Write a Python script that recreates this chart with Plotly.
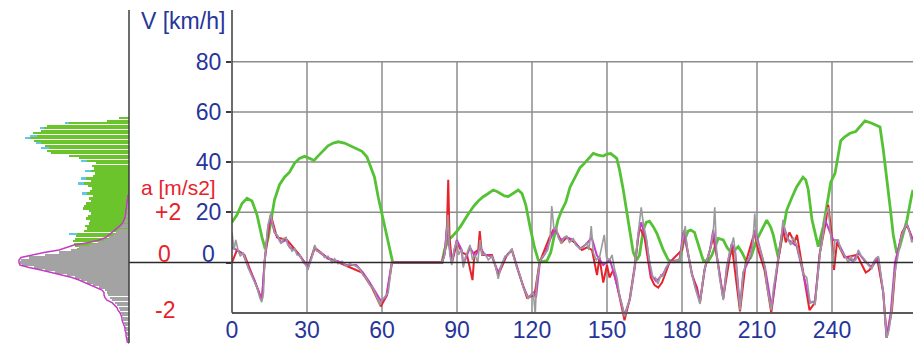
import plotly.graph_objects as go

# ---------------- data ----------------
# velocity [km/h] vs time [s]
vel_t = [0, 2, 4, 6, 8, 10, 12, 13.3, 14.5, 15.5, 17, 19, 21, 23, 25, 27, 29, 31, 32.8, 34, 36, 38.4,
         40.5, 42.5, 45, 48, 50, 52, 54, 55.5, 57, 58.5, 60, 61.5, 63, 64.3, 84, 85, 86.5, 88, 90,
         91.5, 94, 96.5, 98.5, 100.5, 102.5, 104.5, 106, 107.5, 109, 110.5, 112, 114.5, 116, 117.5,
         119.2, 121, 122.5, 124, 126, 127.5, 129, 130.4, 132, 133.5, 135.2, 137, 139.2, 140.5, 141.9,
         143.5, 144.5, 146.5, 148.5, 150, 151.5, 153.9, 155, 156.5, 157.7, 159.2, 160.5, 161.9, 163,
         164.5, 165.7, 167, 168.5, 170, 172.5, 174.5, 176.5, 179, 180.5, 182.4, 183.5, 185, 186.5,
         188.5, 190.5, 192, 194.5, 196.5, 198, 199.8, 202.5, 204, 205.8, 207.5, 209.9, 212, 213.9,
         215.5, 216.5, 218.5, 220, 221.9, 224, 225.9, 228.4, 229.5, 230.5, 232, 234.5, 236.5, 238,
         239.5, 241.2, 242.3, 243.5, 245, 247.2, 249.5, 251, 253.2, 255.9, 258, 259.2, 260.5, 262.2,
         263.5, 264.5, 265.9, 267, 268.5, 270, 271.9, 272.4]
vel_v = [16, 19, 23.5, 25.6, 24.5, 19, 10, 5.3, 10, 16, 25, 31, 34, 36, 39.5, 41.5, 42.3, 41.5, 40.6,
         42, 44.2, 46.5, 47.6, 48.1, 47.6, 46.3, 45.3, 44.3, 42, 38, 34, 26, 19.6, 13, 6, 0, 0, 5,
         9, 10.3, 12.5, 14.5, 18.5, 22.2, 24.5, 26.2, 27.5, 28.9, 28.3, 27.3, 26.5, 26.3, 27.3, 28.9,
         27.5, 23, 14.3, 6, 1, 0.3, 0.8, 4, 11, 17, 21, 24, 30, 33.5, 37.8, 39, 40.5, 42.5, 43.5,
         42.8, 42.4, 43.2, 43.4, 41.5, 37, 29, 21, 11.6, 4, 1, 3, 12.9, 16, 16.5, 14.3, 11.5, 5,
         1, 0.3, 0.5, 7.6, 12.5, 12.9, 12, 7, 0.8, 0.5, 3, 9.6, 9, 6, 3.7, 6.3, 4, 0.3, 2, 9, 13,
         16.9, 14, 11, 2, 10, 20.9, 26, 30.2, 34, 32.9, 29, 17, 6.3, 14.3, 23, 32, 35.5, 41, 48.5,
         50, 51.5, 52.2, 54, 56.4, 55.5, 54.5, 54, 45, 31.6, 20, 11, 3.7, 6, 11.6, 17, 27, 28.9]

# acceleration [m/s2], smoothed (magenta)
acc_mag_t = [0, 2.4, 4.4, 6.4, 9, 11, 12, 13.1, 14.4, 15.5, 17, 18.4, 19.7, 21.7, 23.1, 25.1, 27.1,
             30.4, 33.1, 35.7, 38.4, 42.4, 45.7, 49.7, 52.4, 55.1, 57.7, 59.7, 61.7, 63.9, 84, 85,
             85.9, 87.9, 89.9, 91.9, 92.5, 95.2, 97.2, 99.2, 101.2, 103.9, 106.5, 109.2, 111.9,
             113.9, 116.5, 118.5, 120.5, 121.6, 123.2, 125.2, 127.2, 129.2, 131.2, 133.9, 136.5,
             139.2, 141.9, 143.9, 145.9, 148.5, 151.2, 153.2, 155.2, 157, 159.2, 161.2, 162.5,
             163.7, 165.7, 167.7, 169.7, 172.5, 175.2, 179, 180.5, 181.9, 183.9, 185.2, 187.2,
             189.2, 191.2, 192.5, 193.9, 196.5, 197.9, 199.9, 201.2, 203.2, 204.5, 207.2, 209.2,
             211.2, 213.2, 215.9, 218.5, 220.5, 222.5, 225.9, 228.5, 231.2, 233.2, 235.2, 237.2,
             239.2, 240.5, 241.9, 245.2, 248.5, 250.5, 253.2, 255.9, 258.5, 260.5, 261.8, 263.5,
             265.2, 267.9, 269.9, 272.4]
acc_mag_a = [0.6, 0.45, 0.35, -0.15, -0.7, -1.25, -1.45, 0.1, 1.4, 1.8, 1.2, 1.0, 0.8, 0.9, 0.6,
             0.5, 0.25, -0.15, 0.55, 0.35, 0.15, 0.05, -0.1, -0.1, -0.4, -0.8, -1.25, -1.55, -1.35,
             0, 0, 0.3, 1.3, 0, 0.9, 0.5, -0.1, 0.6, 0.25, 0.6, 0.3, 0.25, -0.4, 0.2, 0.5, -0.15,
             -0.95, -1.4, -1.2, -1.4, 0.05, 0.35, 0.9, 1.35, 0.9, 1.0, 0.9, 0.55, 0.75, 1.0, 0.3,
             -0.1, 0.1, -0.6, -1.4, -2.1, -1.45, -0.15, 1.1, 1.6, 0.9, -0.5, -0.75, -0.45, 0.05,
             0.1, 1.2, 0.6, -0.4, -0.9, -1.55, -0.2, 0.5, 1.3, 0.3, -1.45, -0.2, 0.75, 0.5, -1.8,
             -0.4, 0.2, 1.3, 0.5, -0.2, -1.8, 0.2, 1.5, 0.9, 0.65, -0.4, -1.6, -1.55, 0.4, 1.7,
             1.2, 0.9, 0.9, 0.25, 0.05, 0.4, 0.05, -0.2, 0.2, -1.2, -3.0, -2.0, 0, 1.1, 1.55, 0.85]

# acceleration [m/s2], raw (grey)
acc_grey_t = [0, 0.8, 1.5, 2.4, 3.3, 4.4, 5.5, 6.4, 7.5, 9, 10, 11.1, 11.9, 12.6, 13.1, 14.4, 15.5,
              16.3, 17.1, 18.4, 19, 19.7, 20.5, 21.7, 22.3, 23.1, 24, 25.1, 26, 27.1, 28.5, 29.5,
              30.4, 31.2, 32, 33.1, 34, 35.7, 37, 38.4, 40, 41, 42.4, 44, 45.7, 47, 49.7, 51, 52.4,
              53.5, 55.1, 56.3, 57.7, 58.5, 59.2, 60, 61.7, 62.5, 63.9, 84, 84.8, 85.5, 86.4, 87.1,
              87.9, 88.8, 89.9, 90.6, 91.9, 92.5, 93.3, 95.2, 96.2, 97.2, 98.3, 99.2, 100, 101.2,
              102.5, 103.9, 105, 106.5, 107.5, 109.2, 110.5, 111.9, 113, 113.9, 115.2, 116.5, 117.5,
              118.5, 119.5, 120.5, 121.3, 121.8, 123.2, 124, 125.2, 126.3, 127.2, 127.9, 128.8,
              129.7, 130.5, 131.7, 132.8, 133.9, 135, 136.5, 137.5, 139.2, 140.5, 141.9, 142.8,
              143.7, 144.5, 145.7, 147, 148.9, 149.8, 151.1, 152, 153.1, 154, 155.1, 156, 157, 158,
              159.2, 160.3, 161.2, 162.5, 163.7, 164.6, 165.7, 166.7, 167.7, 168.4, 169.4, 170.4,
              171.5, 172.4, 173.5, 175.1, 177, 179.1, 180.5, 181.3, 181.9, 183.9, 185.2, 186.2,
              187.2, 188.2, 189.2, 190.5, 191.5, 192.5, 193.1, 193.9, 195, 196.5, 197.9, 198.8,
              199.9, 200.6, 201.2, 202.4, 203.2, 204.5, 205.7, 207.2, 208.2, 209.1, 209.8, 211.2,
              212.2, 213.2, 213.7, 215, 215.7, 216.6, 218.5, 219.5, 220.4, 221.3, 222.5, 223.5,
              224.5, 225.9, 226.8, 227.7, 228.5, 229.9, 231.2, 232.3, 233.2, 234.2, 235.2, 236.3,
              237.2, 238.5, 239.3, 240.5, 241.2, 242.5, 243.5, 245.2, 246.5, 247.5, 248.5, 249.5,
              250.5, 251.5, 253.2, 254.5, 255.9, 257, 258.5, 259.5, 260.5, 261.2, 261.9, 262.8,
              263.9, 265, 265.9, 267, 267.9, 269.9, 271, 271.9, 272.4]
acc_grey_a = [1.2, 0.5, 0.9, 0.5, 0.25, 0.4, 0.1, -0.2, -0.45, -0.8, -1.0, -1.4, -1.58, -1.2, 0.1,
              1.5, 1.95, 1.5, 1.2, 1.05, 0.85, 0.75, 0.95, 1.0, 0.7, 0.65, 0.45, 0.55, 0.3, 0.3, 0.0,
              -0.1, -0.3, 0.0, 0.2, 0.7, 0.45, 0.4, 0.2, 0.25, 0.0, 0.15, -0.05, 0.05, -0.15, -0.05,
              -0.15, -0.25, -0.5, -0.6, -0.9, -1.0, -1.35, -1.5, -1.7, -1.5, -1.3, -1.2, 0, 0, 0.2,
              0.7, 1.9, 0.3, -0.1, 0.5, 0.85, 0.3, 0.55, -0.2, 0.2, 0.7, 0.1, 0.3, 0.0, 0.9, 0.3,
              0.35, 0.1, 0.25, 0.05, -0.65, -0.2, 0.25, 0.3, 0.55, 0.1, -0.2, -0.5, -1.0, -1.2,
              -1.45, -1.3, -1.2, -2.05, -0.8, 0.05, 0.2, 0.35, 0.5, 0.9, 2.25, 1.3, 1.45, 1.0, 0.75,
              1.0, 1.05, 0.8, 0.95, 0.7, 0.55, 0.6, 0.8, 0.5, 1.45, 0.4, 0.1, 0.2, 1.1, 0.2, 0.1,
              0.3, -0.3, -0.6, -1.36, -1.7, -2.15, -1.8, -1.45, -0.7, -0.1, 1.2, 2.2, 1.5, 1.0, 0.2,
              -0.2, -0.6, -0.6, -0.85, -0.5, -0.55, -0.2, 0.0, 0.05, 0.1, 1.0, 1.45, 0.7, -0.45,
              -1.0, -1.3, -1.65, -0.8, -0.2, 0.3, 0.6, 1.2, 2.2, 0.3, -0.6, -1.5, -0.2, 0.3, 0.8,
              1.0, 0.5, -1.0, -1.9, -0.4, 0.0, 0.25, 0.6, 1.95, 0.9, 0.55, 0.2, -0.2, -0.8, -1.5,
              -1.9, -1.0, 0.15, 0.8, 1.7, 1.2, 0.9, 0.7, 1.0, 0.7, 0.3, 0.0, -0.45, -0.6, -1.6,
              -1.55, -1.7, -0.5, 0.35, 1.0, 1.8, 2.2, 1.3, -0.1, 0.9, 0.9, 0.5, 0.25, 0.0, 0.25,
              0.05, 0.1, 0.5, 0.3, 0.1, -0.1, -0.25, 0.1, 0.25, -0.5, -1.2, -2.2, -3.0, -2.7, -1.9,
              -0.5, 0.0, 0.7, 1.1, 1.55, 1.2, 0.8, 0.9]

# acceleration [m/s2], second raw channel (red)
acc_red_t = [0, 2, 5, 9, 12, 13.1, 15.5, 18, 22, 27, 30.4, 33, 38, 45, 52, 56, 59.5, 62, 64, 84, 85.3,
             86, 86.5, 87, 88, 90, 92, 94, 96.2, 97, 98.5, 99.1, 100, 104, 106.5, 110, 112, 114,
             118, 121, 123, 127, 129, 132, 134, 137, 140, 142, 144, 146, 147, 148.5, 150, 151,
             152.5, 154, 155.5, 157, 159, 161, 163, 165, 167.5, 169, 170.5, 172, 175, 180, 181,
             182, 184, 186, 187.2, 189, 192.5, 194, 196.5, 199.9, 203.2, 205.5, 209, 210.5, 213,
             215.7, 218.5, 220.5, 221.5, 223, 225, 226, 228.5, 231, 233.2, 235, 237.5, 238.5, 240,
             240.8, 242, 245, 250, 253.5, 255, 258, 260.5, 261.9, 264, 265.5, 268, 270, 272.4]
acc_red_a = [0.0, 0.5, 0.3, -0.7, -1.5, 0.1, 1.9, 1.0, 0.9, 0.3, -0.2, 0.6, 0.2, -0.1, -0.4, -1.0,
             -1.75, -1.3, 0, 0, 0.5, 1.5, 3.3, 1.0, 0, 0.8, 0.4, 0.3, -0.7, 0.4, 0.5, 1.25, 0.3,
             0.3, -0.5, 0.3, 0.5, -0.2, -1.4, -1.3, 0.0, 1.0, 1.4, 0.8, 1.0, 0.8, 0.5, 0.6, 0.5,
             -0.5, 0.2, -0.8, -0.1, -0.6, -0.3, -0.9, -1.6, -2.3, -1.5, -0.2, 1.4, 1.0, -0.6, -0.9,
             -1.0, -0.8, 0, 0.5, 1.3, 0.6, -0.5, -1.0, -1.6, -0.3, 1.0, 0.2, -1.4, 0.7, -1.95, 0,
             1.2, 0.5, -0.3, -2.0, 0.1, 1.3, 0.8, 1.2, 0.8, 1.1, -0.4, -1.9, -1.6, 0.3, 1.6, 2.3,
             1.0, -0.3, 0.8, 0.2, 0.3, -0.4, -0.3, 0.2, -1.2, -3.0, -1.9, 0, 1.2, 1.5, 0.9]

# velocity distribution (left panel), 1 km/h bins, bar length
vhist_bin = [0.5 + i for i in range(58)]
vhist_green = [105, 62, 58, 55, 56, 52, 54, 55, 56, 54, 53, 52, 45, 42, 44, 40, 39, 43, 41, 38,
               40, 46, 45, 43, 38, 40, 36, 42, 39, 37, 41, 45, 38, 43, 36, 34, 38, 35, 37, 33,
               42, 50, 60, 78, 82, 80, 84, 88, 95, 99, 92, 96, 88, 85, 82, 60, 22, 10]
vhist_cyan = [105, 62, 58, 55, 56, 52, 54, 55, 56, 54, 53, 60, 45, 42, 44, 40, 39, 43, 41, 38,
              40, 46, 45, 43, 38, 40, 36, 47, 39, 37, 41, 51, 38, 48, 36, 34, 44, 35, 37, 33,
              48, 50, 60, 78, 82, 88, 84, 93, 95, 104, 99, 96, 88, 89, 82, 64, 22, 10]

# acceleration distribution (left panel), 0.1 m/s2 bins, bar length
ahist_bin = [2.7, 2.6, 2.5, 2.4, 2.3, 2.2, 2.1, 2.0, 1.9, 1.8, 1.7, 1.6, 1.5, 1.4, 1.3, 1.2, 1.1,
             1.0, 0.9, 0.8, 0.7, 0.6, 0.5, 0.4, 0.3, 0.2, 0.1, 0.0, -0.1, -0.2, -0.3, -0.4, -0.5,
             -0.6, -0.7, -0.8, -0.9, -1.0, -1.1, -1.2, -1.3, -1.4, -1.5, -1.6, -1.7, -1.8, -1.9,
             -2.0, -2.1, -2.2, -2.3, -2.4, -2.5, -2.6, -2.7, -2.8, -2.9, -3.0, -3.1, -3.2]
ahist_grey = [1, 1, 1, 1.5, 1.5, 2, 2, 2.5, 3, 3.5, 4, 5, 7, 9, 11, 13, 16, 20, 25, 31, 40, 50, 58,
              70, 84, 100, 108, 109, 107, 95, 84, 74, 62, 54, 48, 42, 36, 30, 24, 22, 21, 19, 17,
              14, 12, 10, 9, 8, 7, 6, 6, 5, 4, 4, 3, 3, 2, 2, 2, 1]
ahist_mag = [1, 1, 1.5, 2, 2, 2.5, 3, 3, 3.5, 4, 5, 6, 8, 11, 14, 17, 20, 23, 30, 40, 55, 62, 70,
             85, 98, 108, 110, 110, 109, 100, 88, 78, 66, 57, 50, 44, 38, 32, 27, 25, 25, 24, 22,
             17, 14, 12, 11, 9, 8, 7, 7, 6, 5, 4, 4, 3, 3, 2.5, 2, 1.5]

time_ticks = [0, 30, 60, 90, 120, 150, 180, 210, 240]
v_ticks = [0, 20, 40, 60, 80]
v_ticktext = ["", "20", "40", "60", "80"]

# ---------------- style / layout ----------------
W, H = 913, 347
BLUE = "#27359a"
RED = "#e8222b"
FONT = "Liberation Sans, Arial, sans-serif"
PXV = 2.51          # pixels per km/h
Y0 = 262.5          # pixel row of zero
PXT = 2.5           # pixels per second
XL = 232            # left edge of main plot
XH = 129            # right edge of histogram panel
v_range = [-(H - Y0) / PXV, Y0 / PXV]
a_range = [v_range[0] / 10, v_range[1] / 10]
t_max = (W - XL) / PXT

fig = go.Figure()

# histogram panel
fig.add_trace(go.Bar(x=vhist_cyan, y=vhist_bin, orientation="h", width=0.9,
                     marker=dict(color="#5fc8e6", line_width=0), xaxis="x3", yaxis="y3",
                     showlegend=False))
fig.add_trace(go.Bar(x=vhist_green, y=vhist_bin, orientation="h", width=0.9,
                     marker=dict(color="#6cc42c", line_width=0), xaxis="x3", yaxis="y3",
                     showlegend=False))
fig.add_trace(go.Bar(x=ahist_grey, y=ahist_bin, orientation="h", width=0.09,
                     marker=dict(color="#a3a3a3", line_width=0), xaxis="x3", yaxis="y4",
                     showlegend=False))
fig.add_trace(go.Scatter(x=ahist_mag, y=ahist_bin, mode="lines",
                         line=dict(color="#c43cc4", width=1.5), xaxis="x3", yaxis="y4",
                         showlegend=False))

# main panel: acceleration
fig.add_trace(go.Scatter(x=acc_red_t, y=acc_red_a, mode="lines", line=dict(color=RED, width=2),
                         xaxis="x", yaxis="y2", showlegend=False))
fig.add_trace(go.Scatter(x=acc_mag_t, y=acc_mag_a, mode="lines",
                         line=dict(color="#c83cc8", width=2), xaxis="x", yaxis="y2",
                         showlegend=False))
fig.add_trace(go.Scatter(x=acc_grey_t, y=acc_grey_a, mode="lines",
                         line=dict(color="#9a9a9a", width=1.6), xaxis="x", yaxis="y2",
                         showlegend=False))
# main panel: velocity
fig.add_trace(go.Scatter(x=vel_t, y=vel_v, mode="lines",
                         line=dict(color="#55c236", width=2.8),
                         xaxis="x", yaxis="y", showlegend=False))

shapes = []
for v in v_ticks[1:]:
    shapes.append(dict(type="line", xref="x", yref="y", x0=0, x1=t_max, y0=v, y1=v,
                       line=dict(color="#8c8c8c", width=1.5), layer="below"))
for t in time_ticks[1:]:
    shapes.append(dict(type="line", xref="x", yref="y", x0=t, x1=t, y0=-20, y1=80,
                       line=dict(color="#8c8c8c", width=1.5), layer="below"))
# zero line across both panels
shapes.append(dict(type="line", xref="paper", yref="y", x0=XH / W, x1=1, y0=0, y1=0,
                   line=dict(color="#2a2a2a", width=1.5)))
# main left axis line
shapes.append(dict(type="line", xref="paper", yref="y", x0=XL / W, x1=XL / W,
                   y0=-20, y1=(Y0 - 10) / PXV, line=dict(color="#3c3c3c", width=1.5)))
# histogram baseline
shapes.append(dict(type="line", xref="paper", yref="y", x0=XH / W, x1=XH / W,
                   y0=-(343 - Y0) / PXV, y1=(Y0 - 10) / PXV,
                   line=dict(color="#3c3c3c", width=1.5)))

tickfont = dict(family=FONT, size=23, color=BLUE)
redfont = dict(family=FONT, size=23, color=RED)
annotations = [
    dict(text="V [km/h]", xref="paper", yref="paper", x=183 / W, y=1 - 21 / H,
         showarrow=False, font=tickfont, xanchor="center", yanchor="middle"),
    dict(text="0", xref="paper", yref="y", x=200 / W, y=(Y0 - 254) / PXV,
         showarrow=False, font=tickfont, xanchor="left", yanchor="middle"),
    dict(text="a [m/s2]", xref="paper", yref="paper", x=178 / W, y=1 - 187 / H,
         showarrow=False, font=dict(family=FONT, size=21, color=RED),
         xanchor="center", yanchor="middle"),
    dict(text="+2", xref="paper", yref="y2", x=153 / W, y=2,
         showarrow=False, font=redfont, xanchor="left", yanchor="middle"),
    dict(text="0", xref="paper", yref="y", x=156 / W, y=(Y0 - 254) / PXV,
         showarrow=False, font=redfont, xanchor="left", yanchor="middle"),
    dict(text="-2", xref="paper", yref="y2", x=153 / W, y=-1.9,
         showarrow=False, font=redfont, xanchor="left", yanchor="middle"),
]

fig.update_layout(
    width=W, height=H, margin=dict(l=0, r=0, t=0, b=0, autoexpand=False),
    paper_bgcolor="white", plot_bgcolor="rgba(0,0,0,0)",
    barmode="overlay", bargap=0,
    shapes=shapes, annotations=annotations, showlegend=False,
    xaxis=dict(domain=[XL / W, 1], range=[0, t_max], anchor="free", automargin=False,
               position=1 - 312.7 / H, showline=True, linecolor="#5a5a5a", linewidth=1.5,
               showgrid=False, zeroline=False, tickmode="array", tickvals=time_ticks,
               ticks="", ticklabelstandoff=-3, tickfont=tickfont, fixedrange=True),
    yaxis=dict(domain=[0, 1], range=v_range, anchor="x", automargin=False, showline=False,
               showgrid=False, zeroline=False, tickmode="array", tickvals=v_ticks,
               ticktext=v_ticktext, ticks="outside", ticklen=5, tickcolor="#3c3c3c",
               tickwidth=1.5, tickfont=tickfont, fixedrange=True),
    yaxis2=dict(overlaying="y", range=a_range, anchor="x", visible=False, fixedrange=True,
                automargin=False),
    xaxis3=dict(domain=[0, XH / W], range=[XH, 0], anchor="y3", visible=False,
                fixedrange=True, automargin=False),
    yaxis3=dict(domain=[0, 1], range=v_range, anchor="x3", visible=False, fixedrange=True,
                automargin=False),
    yaxis4=dict(overlaying="y3", range=a_range, anchor="x3", visible=False, fixedrange=True,
                automargin=False),
)

fig.write_html("out.html", config={"displayModeBar": False},
               post_script="document.body.style.margin='0px';document.body.style.overflow='hidden';")
